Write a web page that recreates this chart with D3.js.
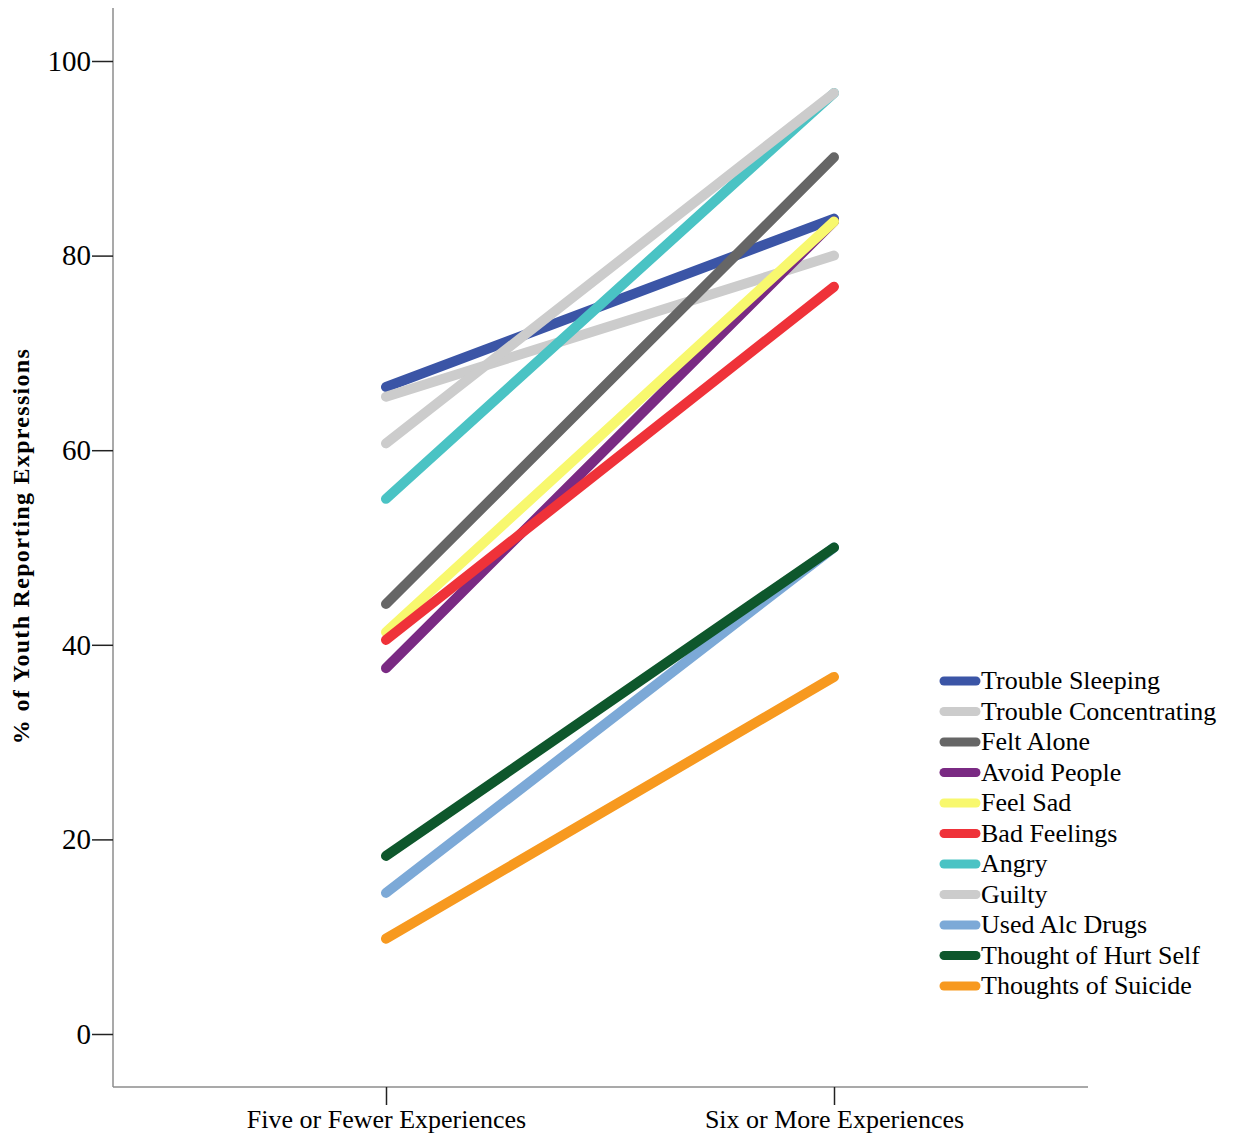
<!DOCTYPE html>
<html><head><meta charset="utf-8">
<script src="https://cdn.jsdelivr.net/npm/d3@7"></script>
<style>body{margin:0;background:#fff}svg{display:block}</style>
</head><body>
<svg id="c" width="1236" height="1134"></svg>
<script>
const categories = ["Five or Fewer Experiences", "Six or More Experiences"];
const seriesNames = ["Trouble Sleeping","Trouble Concentrating","Felt Alone","Avoid People","Feel Sad","Bad Feelings","Angry","Guilty","Used Alc Drugs","Thought of Hurt Self","Thoughts of Suicide"];
const fiveOrFewer = [66.5, 65.5, 44.2, 37.6, 41.3, 40.5, 55.0, 60.7, 14.5, 18.3, 9.8];
const sixOrMore   = [83.8, 80.0, 90.1, 83.5, 83.5, 76.8, 96.7, 96.7, 50.0, 50.0, 36.7];
const colors = ["#3b55a6","#cccccc","#666666","#7a2a83","#f8f86e","#ef3239","#4ac3c4","#cccccc","#7ca9d7","#0e572c","#f7991f"];
const yTicks = [0,20,40,60,80,100];

const svg = d3.select("#c");
const y = d3.scaleLinear().domain([0,100]).range([1034,61]);
const x = d3.scalePoint().domain(categories).range([386,834]);
const serif = "'Liberation Serif','Times New Roman',serif";

// axis lines
svg.append("line").attr("x1",113).attr("x2",113).attr("y1",8).attr("y2",1087).attr("stroke","#8c8c8c").attr("stroke-width",1.5);
svg.append("line").attr("x1",113).attr("x2",1088).attr("y1",1087).attr("y2",1087).attr("stroke","#8c8c8c").attr("stroke-width",1.5);

// y axis
const yAxis = svg.append("g").attr("transform","translate(113,0)")
  .call(d3.axisLeft(y).tickValues(yTicks).tickSize(21).tickPadding(1));
yAxis.select(".domain").remove();
yAxis.selectAll(".tick line").attr("stroke","#222").attr("stroke-width",1.5);
yAxis.selectAll(".tick text").attr("font-family",serif).attr("font-size",29).attr("fill","#000");

// x axis
const xAxis = svg.append("g").attr("transform","translate(0,1087)")
  .call(d3.axisBottom(x).tickSize(18).tickPadding(5));
xAxis.select(".domain").remove();
xAxis.selectAll(".tick line").attr("stroke","#222").attr("stroke-width",1.5);
xAxis.selectAll(".tick text").attr("font-family",serif).attr("font-size",26).attr("fill","#000");

// y title
svg.append("text").attr("transform","translate(29,546) rotate(-90)")
  .attr("text-anchor","middle").attr("font-family",serif).attr("font-weight","bold")
  .attr("font-size",24).attr("letter-spacing",1.3).text("% of Youth Reporting Expressions");

// lines
const line = d3.line().x(d=>x(d.c)).y(d=>y(d.v));
seriesNames.forEach((name,i)=>{
  const pts = [{c:categories[0],v:fiveOrFewer[i]},{c:categories[1],v:sixOrMore[i]}];
  svg.append("path").datum(pts).attr("d",line).attr("fill","none")
    .attr("stroke",colors[i]).attr("stroke-width",10).attr("stroke-linecap","round");
});

// legend
const lg = svg.append("g");
seriesNames.forEach((name,i)=>{
  const yy = 681 + i*30.5;
  lg.append("line").attr("x1",944).attr("x2",976).attr("y1",yy).attr("y2",yy)
    .attr("stroke",colors[i]).attr("stroke-width",9).attr("stroke-linecap","round");
  lg.append("text").attr("x",981).attr("y",yy+8).attr("font-family",serif)
    .attr("font-size",26).attr("fill","#000").text(name);
});
</script>
</body></html>
